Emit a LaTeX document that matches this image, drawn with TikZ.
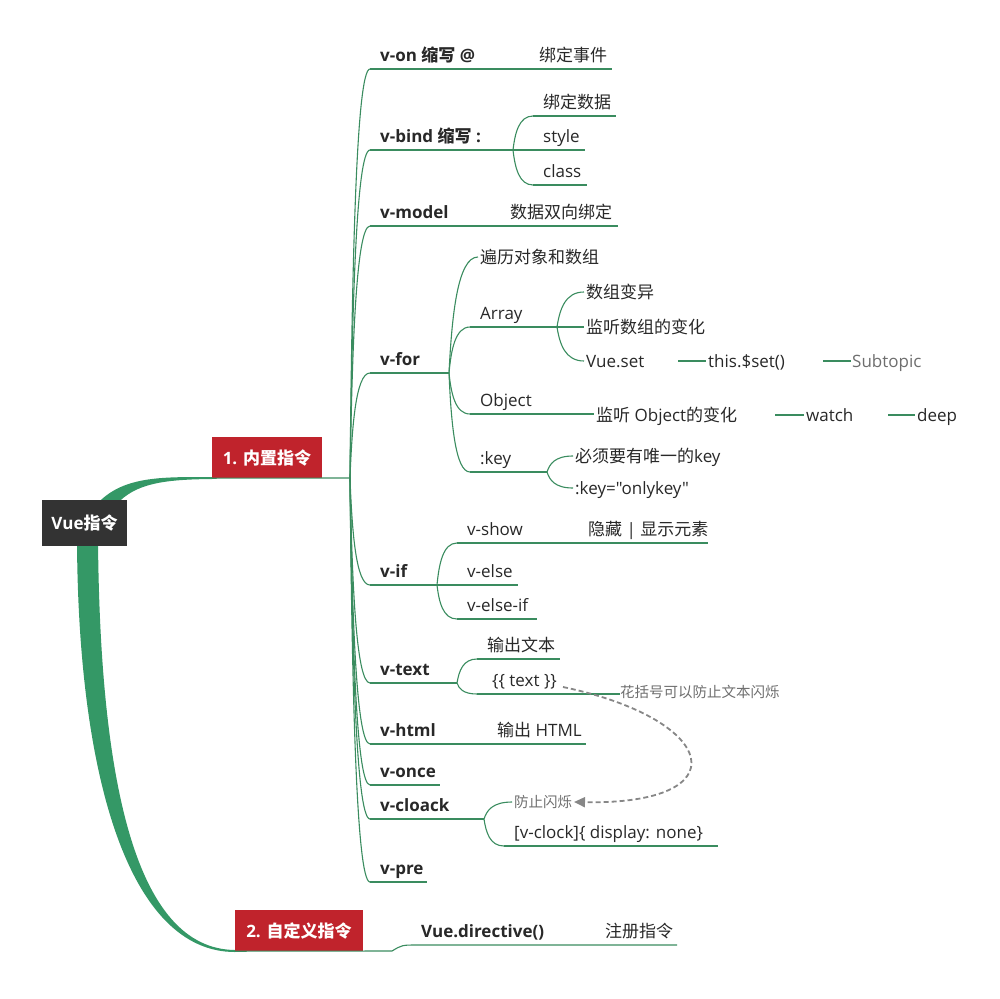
\documentclass[tikz,border=0pt]{standalone}
\usepackage{fontspec}
\setmainfont{Open Sans}[Ligatures=TeXOff]
\newfontfamily\cjk{Noto Sans CJK SC}
\usetikzlibrary{arrows.meta,calc}
\definecolor{gline}{RGB}{58,140,95}
\definecolor{gband}{RGB}{52,152,102}
\definecolor{redfill}{RGB}{192,35,44}
\definecolor{rootfill}{RGB}{51,51,51}
\definecolor{txt}{RGB}{40,40,40}
\definecolor{notegray}{RGB}{110,110,110}
\definecolor{dashgray}{RGB}{135,135,135}
\tikzset{
  lvl1/.style={anchor=base west, inner sep=0pt, font=\fontsize{17}{20}\selectfont\bfseries, text=txt},
  lvl2/.style={anchor=base west, inner sep=0pt, font=\fontsize{17}{20}\selectfont, text=txt},
  subt/.style={lvl2, text=notegray},
  note/.style={anchor=base west, inner sep=0pt, font=\fontsize{14.5}{16}\selectfont\cjk, text=notegray},
  uline/.style={draw=gline, line width=1.1pt},
  rootst/.style={fill=rootfill, text=white, font=\fontsize{17}{20}\selectfont\bfseries, inner sep=0pt, minimum width=85pt, minimum height=46pt},
  redst/.style={fill=redfill, text=white, font=\fontsize{17}{20}\selectfont\bfseries, inner sep=0pt, minimum height=41pt},
  relst/.style={draw=dashgray, line width=1.8pt, dash pattern=on 5pt off 3pt, -{Triangle[length=11pt,width=10pt]}}
}
\newcommand\conn[2]{\draw[uline] let \p1=(#1), \p2=(#2) in (\p1) .. controls ({\x1+0.1*(\x2-\x1)},{0.5*(\y1+\y2)}) and ({\x1+0.3*(\x2-\x1)},\y2) .. (\p2);}
\begin{document}
\begin{tikzpicture}[x=1pt,y=-1pt]
\useasboundingbox (0,0) rectangle (1000,998);
% main bands
\fill[gband] (96,505) .. controls (122,476) and (160,477) .. (212,477) -- (212,479) .. controls (165,479.5) and (135,483) .. (116,505) -- cycle;
\fill[gband] (77,540) .. controls (78,780) and (130,952) .. (235,952) -- (235,950) .. controls (135,949) and (100,780) .. (98,540) -- cycle;
% root and main topics
\node[rootst] (root) at (84.5,523) {Vue{\cjk 指令}};
\node[redst, minimum width=110pt] (b1) at (267,457.5) {1. {\cjk 内置指令}};
\node[redst, minimum width=128pt] (b2) at (299,930.5) {2. {\cjk 自定义指令}};
\coordinate (T) at (350,478);
\draw[uline] (b1.south west) -- (T);
% custom directives
\coordinate (vdir) at (417,945);
\draw[uline] (b2.south west) -- (392,951) .. controls (402,945) .. (vdir) -- (677,945);
\node[lvl1] (vdir-t) at (421,937) {Vue.directive()};
\node[lvl2] (zczl) at (605,937) {\cjk 注册指令};
% v-on
\coordinate (von) at (370,69); \conn{T}{von}
\draw[uline] (von) -- (612,69);
\node[lvl1] (von-t) at (380,61) {v-on {\cjk 缩写} @};
\node[lvl2] (bdsjian) at (539,61) {\cjk 绑定事件};
% v-bind
\coordinate (vbind) at (370,150); \conn{T}{vbind}
\coordinate (vbf) at (513,150);
\draw[uline] (vbind) -- (vbf);
\node[lvl1] (vbind-t) at (380,142) {v-bind {\cjk 缩写} :};
\coordinate (bdsju) at (533,116); \conn{vbf}{bdsju}
\draw[uline] (bdsju) -- (616,116);
\node[lvl2] (bdsju-t) at (543,108) {\cjk 绑定数据};
\draw[uline] (vbf) -- (585,150);
\node[lvl2] (style-t) at (543,142) {style};
\coordinate (cls) at (533,185); \conn{vbf}{cls}
\draw[uline] (cls) -- (587,185);
\node[lvl2] (cls-t) at (543,177) {class};
% v-model
\coordinate (vmodel) at (370,226); \conn{T}{vmodel}
\draw[uline] (vmodel) -- (618,226);
\node[lvl1] (vmodel-t) at (380,218) {v-model};
\node[lvl2] (sxbd) at (510,218) {\cjk 数据双向绑定};
% v-for
\coordinate (vfor) at (370,373); \conn{T}{vfor}
\coordinate (F) at (449,373);
\draw[uline] (vfor) -- (F);
\node[lvl1] (vfor-t) at (380,365) {v-for};
\coordinate (bl) at (478,257); \conn{F}{bl}
\node[lvl2] (bl-t) at (480,263) {\cjk 遍历对象和数组};
\coordinate (arr) at (470,327); \conn{F}{arr}
\coordinate (A) at (557,327);
\draw[uline] (arr) -- (A);
\node[lvl2] (arr-t) at (480,319) {Array};
\coordinate (szby) at (584,292); \conn{A}{szby}
\node[lvl2] (szby-t) at (586,298) {\cjk 数组变异};
\coordinate (jtsz) at (584,327); \draw[uline] (A) -- (jtsz);
\node[lvl2] (jtsz-t) at (586,333) {\cjk 监听数组的变化};
\coordinate (vset) at (584,361); \conn{A}{vset}
\node[lvl2] (vset-t) at (586,367) {Vue.set};
\coordinate (tset) at (706,361);
\draw[uline] (678,361) -- (tset);
\node[lvl2] (tset-t) at (708,367) {this.\$set()};
\coordinate (subt) at (851,361);
\draw[uline] (823,361) -- (subt);
\node[subt] (subt-t) at (852,367) {Subtopic};
\coordinate (obj) at (470,414); \conn{F}{obj}
\coordinate (objE) at (594,414);
\draw[uline] (obj) -- (objE);
\node[lvl2] (obj-t) at (480,406) {Object};
\node[lvl2] (jtobj) at (596,421) {{\cjk 监听} Object{\cjk 的变化}};
\coordinate (watch) at (804,415);
\draw[uline] (775,415) -- (watch);
\node[lvl2] (watch-t) at (806,421) {watch};
\coordinate (deep) at (915,415);
\draw[uline] (888,415) -- (deep);
\node[lvl2] (deep-t) at (917,421) {deep};
\coordinate (key) at (470,472); \conn{F}{key}
\coordinate (K) at (547,472);
\draw[uline] (key) -- (K);
\node[lvl2] (key-t) at (480,464) {:key};
\coordinate (wy) at (573,456); \conn{K}{wy}
\node[lvl2] (wy-t) at (575,462) {{\cjk 必须要有唯一的}key};
\coordinate (ok) at (573,488); \conn{K}{ok}
\node[lvl2] (ok-t) at (575,494) {:key="onlykey"};
% v-if
\coordinate (vif) at (370,585); \conn{T}{vif}
\coordinate (I) at (437,585);
\draw[uline] (vif) -- (I);
\node[lvl1] (vif-t) at (380,577) {v-if};
\coordinate (vshow) at (457,543); \conn{I}{vshow}
\draw[uline] (vshow) -- (708,543);
\node[lvl2] (vshow-t) at (467,535) {v-show};
\node[lvl2] (yc) at (588,535) {{\cjk 隐藏} | {\cjk 显示元素}};
\draw[uline] (I) -- (518,585);
\node[lvl2] (velse-t) at (467,577) {v-else};
\coordinate (velif) at (457,619); \conn{I}{velif}
\draw[uline] (velif) -- (537,619);
\node[lvl2] (velif-t) at (467,611) {v-else-if};
% v-text
\coordinate (vtext) at (370,683); \conn{T}{vtext}
\coordinate (X) at (457,683);
\draw[uline] (vtext) -- (X);
\node[lvl1] (vtext-t) at (380,675) {v-text};
\coordinate (scwb) at (477,659); \conn{X}{scwb}
\draw[uline] (scwb) -- (560,659);
\node[lvl2] (scwb-t) at (487,651) {\cjk 输出文本};
\coordinate (tt) at (477,694); \conn{X}{tt}
\draw[uline] (tt) -- (620,694);
\node[lvl2] (tt-t) at (492,686) {\{\{ text \}\}};
\node[note] (hkh) at (620,697) {花括号可以防止文本闪烁};
% v-html
\coordinate (vhtml) at (370,744); \conn{T}{vhtml}
\draw[uline] (vhtml) -- (586,744);
\node[lvl1] (vhtml-t) at (380,736) {v-html};
\node[lvl2] (schtml) at (497,736) {{\cjk 输出} HTML};
% v-once
\coordinate (vonce) at (370,785); \conn{T}{vonce}
\draw[uline] (vonce) -- (440,785);
\node[lvl1] (vonce-t) at (380,777) {v-once};
% v-cloack
\coordinate (vcl) at (370,819); \conn{T}{vcl}
\coordinate (C) at (484,819);
\draw[uline] (vcl) -- (C);
\node[lvl1] (vcl-t) at (380,811) {v-cloack};
\coordinate (fzsh) at (512,802); \conn{C}{fzsh}
\node[note] (fzsh-t) at (514,807) {防止闪烁};
\coordinate (disp) at (504,846); \conn{C}{disp}
\draw[uline] (disp) -- (718,846);
\node[lvl2] (disp-t) at (514,838) {[v-clock]\{ display: none\}};
% v-pre
\coordinate (vpre) at (370,882); \conn{T}{vpre}
\draw[uline] (vpre) -- (427,882);
\node[lvl1] (vpre-t) at (380,874) {v-pre};
% relationship
\coordinate (rs) at (563,687);
\coordinate (re) at (574,802);
\draw[relst] (rs) .. controls (720,720) and (740,805) .. (re);
\end{tikzpicture}
\end{document}
